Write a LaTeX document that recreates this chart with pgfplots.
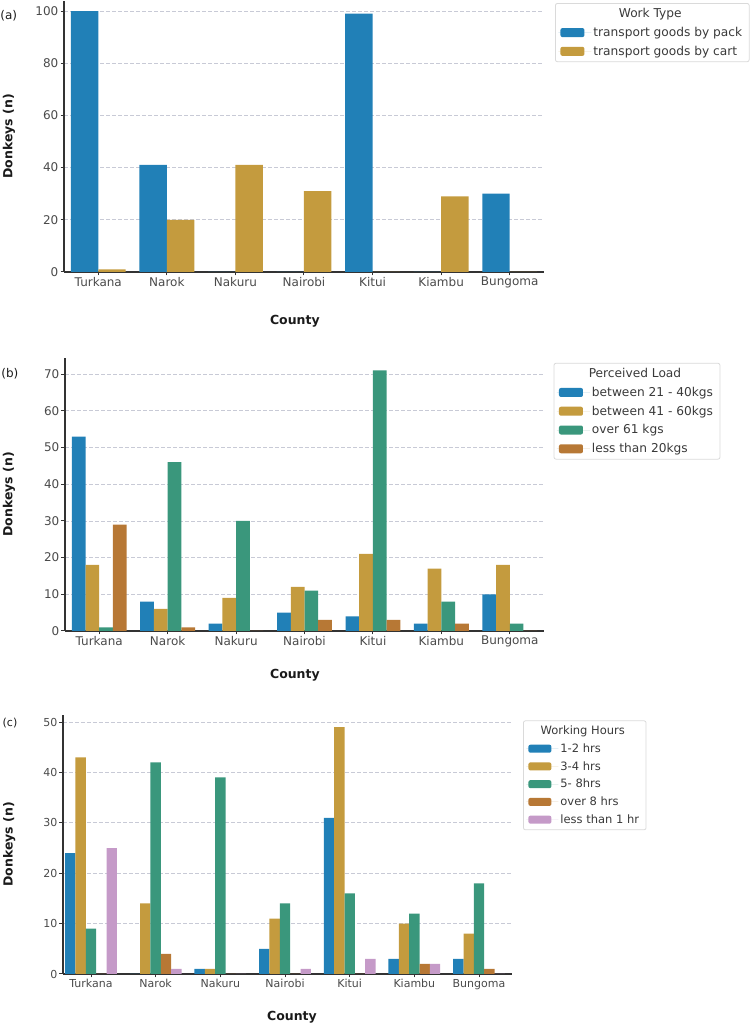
\documentclass[border=0pt]{standalone}
\usepackage{fontspec}
\setmainfont{DejaVu Sans}
\usepackage{pgfplots}
\pgfplotsset{compat=1.18}
\definecolor{cblue}{HTML}{2180B7}
\definecolor{cgold}{HTML}{C49B3E}
\definecolor{cgreen}{HTML}{3A977C}
\definecolor{cbrown}{HTML}{B77835}
\definecolor{cpink}{HTML}{C59AC8}
\definecolor{tickgray}{HTML}{4A4A4A}
\definecolor{spine}{HTML}{333333}
\definecolor{gridc}{HTML}{C8CAD6}
\definecolor{legb}{HTML}{DADADA}
\definecolor{legtext}{HTML}{3A3A3A}
\definecolor{labc}{HTML}{1A1A1A}
\newcommand\tickAB{\fontsize{12}{14}\selectfont}
\newcommand\tickC{\fontsize{11}{13}\selectfont}
\newcommand\legAB{\fontsize{12.2}{14}\selectfont}
\newcommand\legC{\fontsize{11.5}{13}\selectfont}
\newcommand\labfont{\fontsize{12.5}{15}\selectfont\bfseries}
\newlength\wA \newlength\wB \newlength\wC
\pgfplotsset{
  panel/.style={
    scale only axis, axis lines=left,
    axis line style={-, draw=spine, line width=1.1pt},
    ybar=0pt, clip=false, ymin=0,
    xtick={0,...,6},
    xticklabels={Turkana,Narok,Nakuru,Nairobi,Kitui,Kiambu,Bungoma},
    ymajorgrids,
    grid style={gridc, dash pattern=on 4pt off 2pt, line width=0.7pt},
    tick align=outside, major tick length=3.5pt,
    tick style={spine, line width=1pt},
    /pgf/number format/assume math mode=true,
    xticklabel style={text=tickgray, inner sep=1.5pt},
    yticklabel style={text=tickgray, inner sep=2pt},
    xlabel={County}, ylabel={Donkeys (n)},
    label style={font=\labfont, text=labc},
    legend cell align=left,
    legend image code/.code={\path (0pt,0pt) -- (33pt,0pt);\fill[##1] (2pt,-4.5pt) rectangle (26pt,4.5pt);},
    legend style={anchor=north west, draw=legb, line width=0.8pt,
      rounded corners=2pt, text=legtext, inner xsep=3pt, inner ysep=3pt,
      row sep=4pt},
  },
}
\begin{document}
\settowidth{\wA}{\legAB transport goods by pack}%
\settowidth{\wB}{\legAB between 21 - 40kgs}%
\settowidth{\wC}{\legC less than 1 hr}%
\begin{tikzpicture}
\useasboundingbox (0,0) rectangle (753pt,1025pt);
% ---------------- (a)
\begin{axis}[panel,
  at={(64pt,753pt)}, anchor=south west, width=480pt, height=271.4pt,
  xmin=-0.5, xmax=6.5, ymax=104, ytick={0,20,...,100},
  ticklabel style={font=\tickAB},
  bar width=27.4pt,
  xlabel style={at={(axis description cs:0.481,-0.18)}, anchor=center},
  ylabel style={at={(axis description cs:-0.1146,0.5)}, anchor=center},
  legend style={at={(axis description cs:1.023,0.991)}, font=\legAB},
]
\addlegendimage{empty legend}
\addlegendentry{\hspace*{-37pt}\makebox[\dimexpr\wA+39pt\relax][c]{Work Type}}
\addplot[fill=cblue, draw=none] coordinates {(0,100) (1,41) (2,0) (3,0) (4,99) (5,0) (6,30)};
\addlegendentry{transport goods by pack}
\addplot[fill=cgold, draw=none] coordinates {(0,1) (1,20) (2,41) (3,31) (4,0) (5,29) (6,0)};
\addlegendentry{transport goods by cart}
\node[font=\tickAB, text=labc] at (axis description cs:-0.115,0.945) {(a)};
\end{axis}
% ---------------- (b)
\begin{axis}[panel,
  at={(65pt,394pt)}, anchor=south west, width=479pt, height=273pt,
  xmin=-0.5, xmax=6.5, ymax=74.4, ytick={0,10,...,70},
  ticklabel style={font=\tickAB},
  bar width=13.7pt,
  xlabel style={at={(axis description cs:0.48,-0.161)}, anchor=center},
  ylabel style={at={(axis description cs:-0.117,0.5)}, anchor=center},
  legend style={at={(axis description cs:1.02,0.982)}, font=\legAB},
]
\addlegendimage{empty legend}
\addlegendentry{\hspace*{-37pt}\makebox[\dimexpr\wB+39pt\relax][c]{Perceived Load}}
\addplot[fill=cblue, draw=none] coordinates {(0,53) (1,8) (2,2) (3,5) (4,4) (5,2) (6,10)};
\addlegendentry{between 21 - 40kgs}
\addplot[fill=cgold, draw=none] coordinates {(0,18) (1,6) (2,9) (3,12) (4,21) (5,17) (6,18)};
\addlegendentry{between 41 - 60kgs}
\addplot[fill=cgreen, draw=none] coordinates {(0,1) (1,46) (2,30) (3,11) (4,71) (5,8) (6,2)};
\addlegendentry{over 61 kgs}
\addplot[fill=cbrown, draw=none] coordinates {(0,29) (1,1) (2,0) (3,3) (4,3) (5,2) (6,0)};
\addlegendentry{less than 20kgs}
\node[font=\tickAB, text=labc] at (axis description cs:-0.115,0.941) {(b)};
\end{axis}
% ---------------- (c)
\begin{axis}[panel,
  at={(63pt,51pt)}, anchor=south west, width=449pt, height=259pt,
  xmin=-0.433, xmax=6.51, ymax=51.4, ytick={0,10,...,50},
  ticklabel style={font=\tickC},
  bar width=10.35pt,
  xlabel style={at={(axis description cs:0.51,-0.166)}, anchor=center},
  ylabel style={at={(axis description cs:-0.120,0.5)}, anchor=center},
  legend style={at={(axis description cs:1.0245,0.979)}, font=\legC, row sep=3.5pt},
  legend image code/.code={\path (0pt,0pt) -- (32pt,0pt);\fill[#1] (2pt,-4pt) rectangle (25pt,4pt);},
]
\addlegendimage{empty legend}
\addlegendentry{\hspace*{-36pt}\makebox[\dimexpr\wC+38pt\relax][c]{Working Hours}}
\addplot[fill=cblue, draw=none] coordinates {(0,24) (1,0) (2,1) (3,5) (4,31) (5,3) (6,3)};
\addlegendentry{1-2 hrs}
\addplot[fill=cgold, draw=none] coordinates {(0,43) (1,14) (2,1) (3,11) (4,49) (5,10) (6,8)};
\addlegendentry{3-4 hrs}
\addplot[fill=cgreen, draw=none] coordinates {(0,9) (1,42) (2,39) (3,14) (4,16) (5,12) (6,18)};
\addlegendentry{5- 8hrs}
\addplot[fill=cbrown, draw=none] coordinates {(0,0) (1,4) (2,0) (3,0) (4,0) (5,2) (6,1)};
\addlegendentry{over 8 hrs}
\addplot[fill=cpink, draw=none] coordinates {(0,25) (1,1) (2,0) (3,1) (4,3) (5,2) (6,0)};
\addlegendentry{less than 1 hr}
\node[font=\tickC, text=labc] at (axis description cs:-0.118,0.969) {(c)};
\end{axis}
\end{tikzpicture}
\end{document}
